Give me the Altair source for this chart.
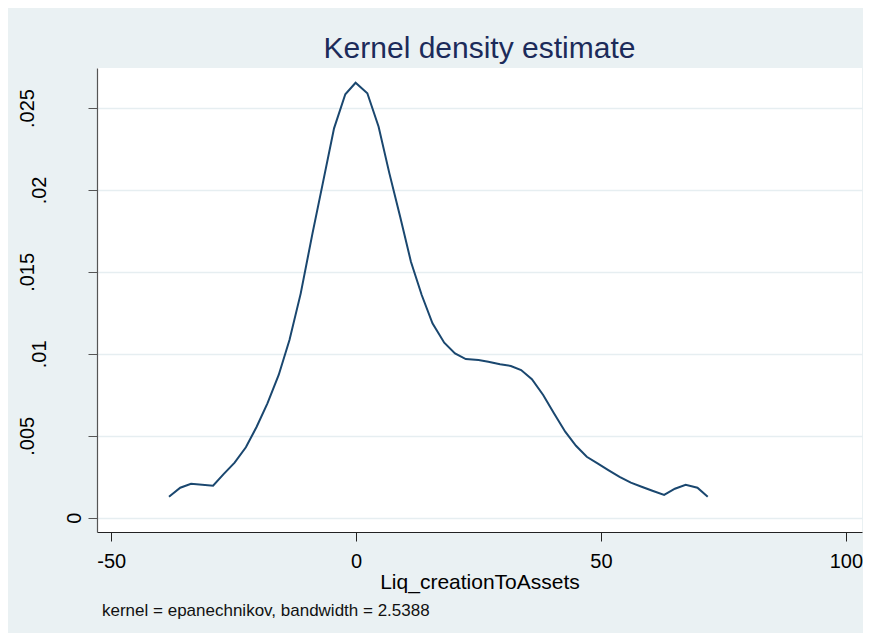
import altair as alt
import pandas as pd

# Kernel density curve
xs = [-38.2, -35.9, -33.7, -29.2, -27.1, -24.8, -22.5, -20.3, -18.1, -15.8,
      -13.6, -11.3, -8.9, -6.8, -4.5, -2.2, -0.1, 2.3, 4.6, 6.8,
      9.0, 11.2, 13.4, 15.6, 18.0, 20.2, 22.4, 25.0, 27.0, 29.4,
      31.6, 33.7, 35.9, 38.2, 40.4, 42.7, 44.9, 47.1, 49.3, 51.5,
      53.8, 56.1, 58.3, 60.5, 62.9, 65.1, 67.3, 69.7, 71.8]
ys = [0.00128, 0.00183, 0.00207, 0.00195, 0.00265, 0.00336, 0.0043, 0.00555, 0.00698, 0.00871,
      0.01084, 0.01369, 0.01735, 0.0204, 0.02376, 0.02584, 0.02654, 0.0259, 0.02386, 0.02101,
      0.01837, 0.01562, 0.01359, 0.01186, 0.01068, 0.01003, 0.00968, 0.00962, 0.00952, 0.00936,
      0.00926, 0.00901, 0.00845, 0.00749, 0.00637, 0.00525, 0.00439, 0.00372, 0.00332, 0.00291,
      0.0025, 0.00214, 0.00189, 0.00165, 0.00139, 0.00177, 0.00201, 0.00183, 0.00128]

x_ticks = [-50, 0, 50, 100]
y_ticks = [0, 0.005, 0.01, 0.015, 0.02, 0.025]
title_text = "Kernel density estimate"
x_title = "Liq_creationToAssets"
note_text = "kernel = epanechnikov, bandwidth = 2.5388"

df = pd.DataFrame({"x": xs, "y": ys})
FONT = "Liberation Sans"

line = alt.Chart(df).mark_line(color="#1a476f", strokeWidth=2).encode(
    x=alt.X(
        "x:Q",
        scale=alt.Scale(domain=[-52.9, 103.3], nice=False, zero=False),
        axis=alt.Axis(
            values=x_ticks,
            title=x_title,
            grid=False,
            tickSize=9,
            tickColor="#222222",
            domainColor="#222222",
            domainWidth=1.2,
            labelFont=FONT,
            labelFontSize=20,
            labelColor="#000000",
            labelPadding=10,
            labelExpr="'' + datum.value",
            titleFont=FONT,
            titleFontSize=21,
            titleFontWeight="normal",
            titleColor="#000000",
            titlePadding=0,
        ),
    ),
    y=alt.Y(
        "y:Q",
        scale=alt.Scale(domain=[-0.00087, 0.02744], nice=False, zero=False),
        axis=alt.Axis(
            values=y_ticks,
            title=None,
            grid=True,
            gridColor="#e6eef1",
            gridWidth=1.5,
            tickSize=9,
            tickColor="#555555",
            domainColor="#555555",
            domainWidth=1.2,
            labelFont=FONT,
            labelFontSize=20,
            labelColor="#000000",
            labelAngle=270,
            labelAlign="center",
            labelBaseline="alphabetic",
            labelExpr="datum.value == 0 ? '0' : substring(format(datum.value, '.3~f'), 1)",
            labelPadding={
                "condition": [
                    {"test": "datum.value == 0", "value": 8},
                    {"test": "abs(datum.value - 0.01) < 1e-6 || abs(datum.value - 0.02) < 1e-6", "value": 43},
                ],
                "value": 55,
            },
        ),
    ),
)

note = alt.Chart(pd.DataFrame({"t": [note_text]})).mark_text(
    align="left", baseline="alphabetic", font=FONT, fontSize=17, color="#111111"
).encode(x=alt.value(5), y=alt.value(548), text="t:N")

chart = alt.layer(line, note).properties(
    width=765,
    height=464,
    autosize=alt.AutoSizeParams(type="none"),
    padding={"left": 89, "top": 60, "right": 1, "bottom": 101},
    background="#eaf1f3",
    title=alt.TitleParams(
        text=title_text,
        font=FONT,
        fontSize=30,
        fontWeight="normal",
        color="#1c2b5a",
        anchor="middle",
        baseline="alphabetic",
        offset=-20,
    ),
).configure_view(fill="white", stroke=None)

chart.save("out.html", embed_options={"renderer": "svg", "actions": False})
